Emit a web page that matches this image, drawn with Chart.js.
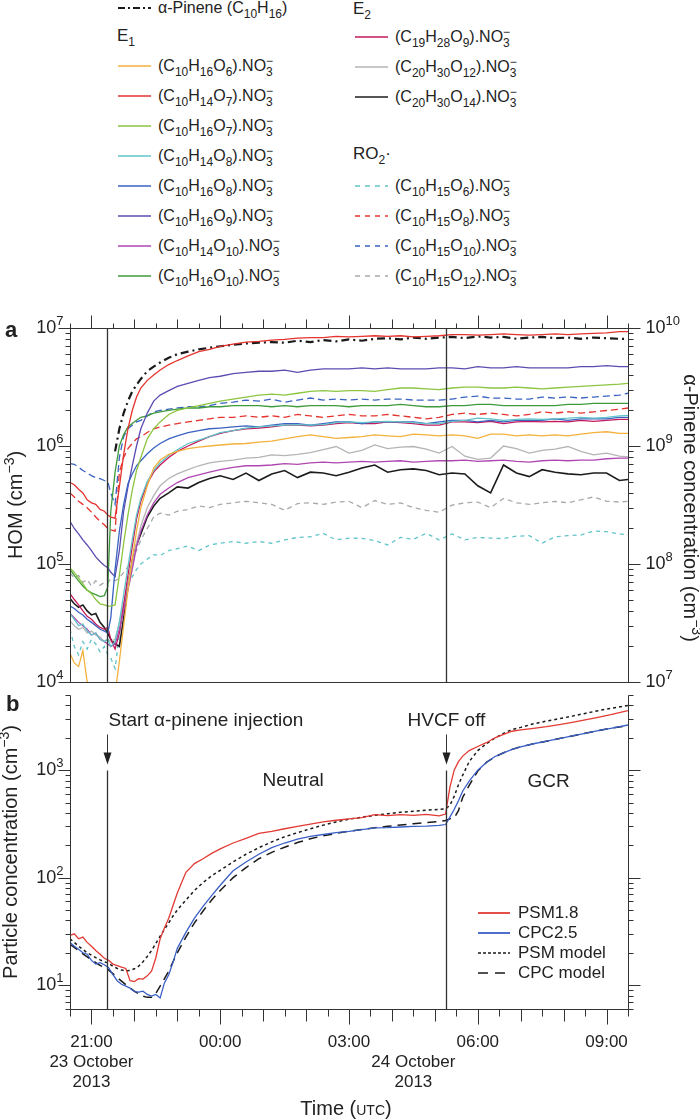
<!DOCTYPE html>
<html lang="en">
<head>
<meta charset="UTF-8">
<meta name="viewport" content="width=device-width, initial-scale=1.0">
<title>HOM and particle concentrations</title>
<script src="https://cdn.jsdelivr.net/npm/chart.js"></script>
<style>
  html, body { margin: 0; padding: 0; background: #fff; }
  body { position: relative; width: 700px; height: 1120px; overflow: hidden;
         font-family: "Liberation Sans", Arial, Helvetica, sans-serif; color: #222; }
  canvas { position: absolute; left: 0; }
  #chartA { top: 290px; }
  #chartB { top: 690px; }
  .item { position: absolute; height: 20px; line-height: 20px; font-size: 16px;
          display: flex; align-items: center; white-space: nowrap; }
  .item svg { flex: none; margin-right: 7px; }
  .item.b { font-size: 17px; }
  .item.b svg { margin-right: 8px; }
  .head { position: absolute; height: 20px; line-height: 20px; font-size: 17px; white-space: nowrap; }
  sub { font-size: 12px; line-height: 0; vertical-align: -5px; }
  .st { position: relative; display: inline-block; width: 7px; height: 0; }
  .st i, .st b { position: absolute; left: 0; font-size: 12px; line-height: 12px;
                 font-style: normal; font-weight: normal; }
  .st i { bottom: 4px; }
  .st b { top: -5px; }
</style>
</head>
<body>
<div id="legendTop"></div>
<canvas id="chartA" width="700" height="410"></canvas>
<canvas id="chartB" width="700" height="430"></canvas>
<div id="legendB"></div>

<script>
// ---------- panel a : HOM concentrations (cm-3), time in hours from 23 Oct 00:00 UTC ----------
const tA = [20.5, 20.6, 20.7, 20.8, 20.9, 21.0, 21.1, 21.2, 21.3, 21.38,
            21.45, 21.55, 21.65, 21.75, 21.85, 21.95, 22.05, 22.15, 22.3, 22.45,
            22.6, 22.8, 23.0, 23.25, 23.5, 23.75, 24.0, 24.3, 24.6,
            24.9, 25.2, 25.5, 25.8, 26.1, 26.4, 26.7, 27.0, 27.3, 27.6,
            27.9, 28.2, 28.5, 28.8, 29.1, 29.4, 29.7, 30.0, 30.3, 30.6,
            30.9, 31.2, 31.5, 31.8, 32.1, 32.4, 32.7, 33.0, 33.3, 33.5];

// E1
const c10h16o6 = [1.75e4, 1.45e4, 1.35e4, 1.85e4, 1.0e4, 8e3, 7e3, 6e3, 6e3, 6e3,
                  6e3, 8e3, 1.5e4, 3.0e4, 6.0e4, 1.1e5, 1.9e5, 3.0e5, 4.6e5, 6.5e5,
                  7.6e5, 8.5e5, 9.0e5, 9.5e5, 9.8e5, 1.0e6, 1.02e6, 1.04e6, 1.05e6,
                  1.08e6, 1.1e6, 1.15e6, 1.2e6, 1.24e6, 1.2e6, 1.16e6, 1.18e6, 1.2e6, 1.24e6,
                  1.22e6, 1.2e6, 1.26e6, 1.24e6, 1.22e6, 1.24e6, 1.22e6, 1.16e6, 1.26e6, 1.26e6,
                  1.22e6, 1.24e6, 1.22e6, 1.24e6, 1.22e6, 1.26e6, 1.3e6, 1.32e6, 1.28e6, 1.28e6];
const c10h14o7 = [4.9e5, 4.7e5, 4.3e5, 4.0e5, 3.5e5, 3.3e5, 3.2e5, 2.9e5, 2.8e5, 2.6e5,
                  2.5e5, 2.45e5, 4.5e5, 8.5e5, 1.4e6, 2.0e6, 2.6e6, 3.1e6, 3.6e6, 4.0e6,
                  4.4e6, 4.9e6, 5.3e6, 5.8e6, 6.3e6, 6.6e6, 7.0e6, 7.3e6, 7.6e6,
                  7.7e6, 7.9e6, 8.0e6, 8.2e6, 8.3e6, 8.3e6, 8.5e6, 8.4e6, 8.5e6, 8.6e6,
                  8.5e6, 8.6e6, 8.4e6, 8.5e6, 8.6e6, 8.8e6, 8.8e6, 8.7e6, 8.8e6, 8.9e6,
                  8.8e6, 8.7e6, 8.8e6, 8.9e6, 8.8e6, 8.9e6, 9.0e6, 9.1e6, 9.3e6, 9.3e6];
const c10h16o7 = [9.2e4, 8.5e4, 7.6e4, 6.8e4, 6.0e4, 5.6e4, 5.0e4, 4.6e4, 4.5e4, 4.4e4,
                  4.4e4, 4.5e4, 8.0e4, 1.5e5, 2.6e5, 4.2e5, 6.2e5, 8.0e5, 1.15e6, 1.4e6,
                  1.6e6, 1.85e6, 2.0e6, 2.1e6, 2.2e6, 2.3e6, 2.4e6, 2.5e6, 2.6e6,
                  2.7e6, 2.75e6, 2.7e6, 2.8e6, 2.9e6, 2.95e6, 2.9e6, 2.95e6, 2.95e6, 2.9e6,
                  3.0e6, 3.1e6, 3.1e6, 3.05e6, 3.0e6, 3.1e6, 3.15e6, 3.15e6, 3.1e6, 3.1e6,
                  3.15e6, 3.1e6, 3.05e6, 3.1e6, 3.15e6, 3.2e6, 3.25e6, 3.3e6, 3.35e6, 3.4e6];
const c10h14o8 = [3.8e4, 3.4e4, 3.0e4, 3.1e4, 2.7e4, 2.5e4, 2.6e4, 2.3e4, 2.2e4, 2.3e4,
                  2.0e4, 2.2e4, 3.2e4, 5.5e4, 9.5e4, 1.6e5, 2.6e5, 3.6e5, 5.0e5, 6.2e5,
                  7.2e5, 8.3e5, 9.3e5, 1.05e6, 1.12e6, 1.2e6, 1.3e6, 1.35e6, 1.42e6,
                  1.45e6, 1.48e6, 1.5e6, 1.52e6, 1.5e6, 1.52e6, 1.58e6, 1.6e6, 1.58e6, 1.6e6,
                  1.62e6, 1.6e6, 1.58e6, 1.55e6, 1.55e6, 1.62e6, 1.65e6, 1.72e6, 1.7e6, 1.65e6,
                  1.68e6, 1.7e6, 1.68e6, 1.7e6, 1.72e6, 1.75e6, 1.72e6, 1.75e6, 1.8e6, 1.82e6];
const c10h16o8 = [4.4e4, 4.2e4, 3.9e4, 3.7e4, 3.4e4, 3.2e4, 3.0e4, 2.8e4, 2.7e4, 2.6e4,
                  3.5e4, 9.0e4, 1.9e5, 3.2e5, 4.8e5, 5.8e5, 6.8e5, 7.5e5, 8.6e5, 9.6e5,
                  1.05e6, 1.15e6, 1.22e6, 1.3e6, 1.35e6, 1.4e6, 1.42e6, 1.45e6, 1.48e6,
                  1.45e6, 1.5e6, 1.55e6, 1.55e6, 1.5e6, 1.55e6, 1.6e6, 1.6e6, 1.55e6, 1.6e6,
                  1.6e6, 1.6e6, 1.6e6, 1.55e6, 1.6e6, 1.65e6, 1.65e6, 1.6e6, 1.65e6, 1.6e6,
                  1.65e6, 1.65e6, 1.65e6, 1.7e6, 1.65e6, 1.7e6, 1.7e6, 1.7e6, 1.75e6, 1.75e6];
const c10h16o9 = [2.3e5, 2.0e5, 1.8e5, 1.6e5, 1.45e5, 1.3e5, 1.15e5, 1.05e5, 9.7e4, 9.3e4,
                  8.5e4, 7.8e4, 1.3e5, 2.8e5, 4.5e5, 6.8e5, 1.0e6, 1.4e6, 1.9e6, 2.4e6,
                  2.7e6, 2.95e6, 3.2e6, 3.4e6, 3.6e6, 3.8e6, 3.9e6, 4.1e6, 4.2e6,
                  4.3e6, 4.3e6, 4.4e6, 4.2e6, 4.4e6, 4.5e6, 4.5e6, 4.5e6, 4.6e6, 4.5e6,
                  4.6e6, 4.5e6, 4.5e6, 4.5e6, 4.6e6, 4.6e6, 4.5e6, 4.7e6, 4.6e6, 4.6e6,
                  4.7e6, 4.6e6, 4.6e6, 4.6e6, 4.6e6, 4.7e6, 4.7e6, 4.8e6, 4.7e6, 4.7e6];
const c10h14o10 = [3.8e4, 3.5e4, 3.2e4, 3.0e4, 2.8e4, 2.5e4, 2.6e4, 2.3e4, 2.2e4, 2.1e4,
                   2.0e4, 2.1e4, 2.8e4, 4.0e4, 6.0e4, 9.0e4, 1.4e5, 1.9e5, 2.6e5, 3.3e5,
                   3.9e5, 4.4e5, 4.9e5, 5.4e5, 5.7e5, 6.0e5, 6.3e5, 6.6e5, 6.8e5,
                   6.8e5, 6.9e5, 7.1e5, 7.0e5, 7.2e5, 7.3e5, 7.2e5, 7.3e5, 7.4e5, 7.3e5,
                   7.4e5, 7.5e5, 7.3e5, 7.4e5, 7.5e5, 7.5e5, 7.6e5, 7.4e5, 7.5e5, 7.6e5,
                   7.4e5, 7.3e5, 7.5e5, 7.6e5, 7.5e5, 7.6e5, 7.6e5, 7.8e5, 7.9e5, 7.9e5];
const c10h16o10 = [9.0e4, 8.0e4, 7.2e4, 6.5e4, 6.0e4, 5.7e4, 5.5e4, 5.3e4, 5.4e4, 6.4e4,
                   2.8e5, 6.0e5, 1.0e6, 1.25e6, 1.45e6, 1.55e6, 1.65e6, 1.75e6, 1.8e6, 1.9e6,
                   1.95e6, 2.0e6, 2.05e6, 2.1e6, 2.1e6, 2.15e6, 2.15e6, 2.2e6, 2.2e6,
                   2.2e6, 2.15e6, 2.2e6, 2.15e6, 2.2e6, 2.2e6, 2.2e6, 2.15e6, 2.2e6, 2.2e6,
                   2.2e6, 2.25e6, 2.2e6, 2.15e6, 2.15e6, 2.2e6, 2.2e6, 2.25e6, 2.25e6, 2.2e6,
                   2.2e6, 2.2e6, 2.2e6, 2.2e6, 2.25e6, 2.25e6, 2.3e6, 2.3e6, 2.3e6, 2.3e6];
// E2
const c19h28o9 = [5.6e4, 5.0e4, 4.5e4, 4.0e4, 3.6e4, 3.4e4, 3.1e4, 2.9e4, 2.8e4, 2.9e4,
                  2.3e4, 1.9e4, 2.6e4, 4.5e4, 8.0e4, 1.4e5, 2.4e5, 3.4e5, 4.8e5, 6.0e5,
                  6.9e5, 8.0e5, 9.0e5, 1.0e6, 1.1e6, 1.2e6, 1.28e6, 1.35e6, 1.4e6,
                  1.42e6, 1.45e6, 1.5e6, 1.5e6, 1.48e6, 1.5e6, 1.55e6, 1.58e6, 1.55e6, 1.55e6,
                  1.6e6, 1.58e6, 1.55e6, 1.5e6, 1.5e6, 1.6e6, 1.6e6, 1.58e6, 1.62e6, 1.55e6,
                  1.6e6, 1.62e6, 1.6e6, 1.62e6, 1.6e6, 1.65e6, 1.62e6, 1.65e6, 1.68e6, 1.68e6];
const c20h30o12 = [3.3e4, 3.0e4, 2.8e4, 2.9e4, 2.6e4, 2.7e4, 2.5e4, 2.4e4, 2.2e4, 2.3e4,
                   2.2e4, 2.3e4, 3.2e4, 4.6e4, 6.8e4, 1.0e5, 1.5e5, 2.1e5, 3.0e5, 3.8e5,
                   4.6e5, 5.3e5, 5.8e5, 6.3e5, 6.8e5, 7.2e5, 7.4e5, 7.6e5, 7.9e5,
                   8.0e5, 8.4e5, 8.3e5, 8.5e5, 8.8e5, 9.3e5, 9.9e5, 8.7e5, 9.2e5, 1.02e6,
                   9.5e5, 9.8e5, 9.9e5, 9.4e5, 8.7e5, 9.9e5, 8.2e5, 7.7e5, 7.9e5, 1.0e6,
                   9.5e5, 8.7e5, 9.2e5, 9.4e5, 9.9e5, 9.0e5, 8.4e5, 8.7e5, 8.2e5, 8.1e5];
const c20h30o14 = [5.1e4, 4.6e4, 4.3e4, 4.5e4, 4.0e4, 3.7e4, 3.8e4, 3.2e4, 2.9e4, 2.6e4,
                   2.3e4, 2.1e4, 2.0e4, 3.5e4, 6.5e4, 1.05e5, 1.45e5, 1.8e5, 2.5e5, 3.1e5,
                   3.6e5, 4.0e5, 4.5e5, 4.4e5, 4.9e5, 5.3e5, 5.6e5, 5.2e5, 5.9e5,
                   5.1e5, 5.8e5, 6.2e5, 5.4e5, 6.0e5, 5.9e5, 5.6e5, 6.0e5, 6.5e5, 6.9e5,
                   6.0e5, 6.3e5, 6.4e5, 6.2e5, 5.7e5, 5.9e5, 5.8e5, 4.6e5, 4.0e5, 6.9e5,
                   5.9e5, 5.5e5, 6.3e5, 6.0e5, 5.8e5, 5.7e5, 5.9e5, 5.9e5, 5.1e5, 5.2e5];
// RO2 radicals
const c10h15o6 = [2.8e4, 2.0e4, 1.7e4, 2.2e4, 1.9e4, 2.3e4, 2.1e4, 1.8e4, 2.0e4, 1.7e4,
                  1.6e4, 1.3e4, 2.5e4, 4.5e4, 6.5e4, 7.8e4, 9.0e4, 1.0e5, 1.1e5, 1.2e5,
                  1.18e5, 1.3e5, 1.35e5, 1.42e5, 1.3e5, 1.45e5, 1.5e5, 1.55e5, 1.5e5,
                  1.55e5, 1.5e5, 1.6e5, 1.68e5, 1.7e5, 1.82e5, 1.6e5, 1.66e5, 1.65e5, 1.58e5,
                  1.45e5, 1.68e5, 1.62e5, 1.82e5, 1.6e5, 1.8e5, 1.6e5, 1.68e5, 1.66e5, 1.64e5,
                  1.72e5, 1.74e5, 1.5e5, 1.7e5, 1.74e5, 1.76e5, 1.9e5, 1.88e5, 1.8e5, 1.76e5];
const c10h15o8 = [4.0e5, 3.7e5, 3.4e5, 3.2e5, 3.0e5, 2.75e5, 2.5e5, 2.3e5, 2.15e5, 2.0e5,
                  1.95e5, 1.9e5, 6.0e5, 8.0e5, 9.5e5, 1.05e6, 1.15e6, 1.2e6, 1.3e6, 1.4e6,
                  1.45e6, 1.5e6, 1.55e6, 1.6e6, 1.65e6, 1.7e6, 1.75e6, 1.75e6, 1.8e6,
                  1.75e6, 1.8e6, 1.75e6, 1.85e6, 1.8e6, 1.75e6, 1.8e6, 1.85e6, 1.8e6, 1.8e6,
                  1.85e6, 1.8e6, 1.75e6, 1.7e6, 1.75e6, 1.85e6, 1.9e6, 1.85e6, 1.9e6, 1.85e6,
                  1.8e6, 1.85e6, 1.95e6, 1.9e6, 1.95e6, 1.9e6, 1.95e6, 2.0e6, 2.05e6, 2.1e6];
const c10h15o10 = [7.1e5, 7.0e5, 6.6e5, 6.2e5, 5.9e5, 5.6e5, 5.4e5, 5.3e5, 5.1e5, 5.0e5,
                   4.0e5, 3.2e5, 8.0e5, 1.2e6, 1.4e6, 1.5e6, 1.6e6, 1.65e6, 1.8e6, 1.95e6,
                   2.0e6, 2.05e6, 2.1e6, 2.15e6, 2.15e6, 2.2e6, 2.3e6, 2.35e6, 2.45e6,
                   2.4e6, 2.5e6, 2.35e6, 2.45e6, 2.55e6, 2.45e6, 2.5e6, 2.45e6, 2.5e6, 2.45e6,
                   2.5e6, 2.5e6, 2.45e6, 2.45e6, 2.45e6, 2.5e6, 2.6e6, 2.65e6, 2.55e6, 2.55e6,
                   2.5e6, 2.5e6, 2.6e6, 2.55e6, 2.6e6, 2.55e6, 2.6e6, 2.65e6, 2.7e6, 2.8e6];
const c10h15o12 = [8.4e4, 7.6e4, 8.0e4, 7.0e4, 7.4e4, 6.5e4, 7.2e4, 6.6e4, 7.0e4, 6.9e4,
                   7.5e4, 7.2e4, 7.6e4, 8.5e4, 9.5e4, 1.1e5, 1.3e5, 1.6e5, 2.0e5, 2.5e5,
                   2.7e5, 2.6e5, 2.8e5, 2.9e5, 3.1e5, 3.0e5, 3.2e5, 3.3e5, 3.4e5,
                   3.3e5, 3.2e5, 2.85e5, 3.25e5, 3.3e5, 3.2e5, 3.35e5, 3.4e5, 3.0e5, 3.45e5,
                   3.2e5, 3.3e5, 3.0e5, 2.85e5, 2.75e5, 3.15e5, 3.3e5, 3.35e5, 3.0e5, 3.6e5,
                   3.3e5, 3.2e5, 3.3e5, 3.4e5, 3.3e5, 3.5e5, 3.7e5, 3.4e5, 3.35e5, 3.4e5];
// alpha-pinene (right axis, cm-3)
const alphaPinene = [null, null, null, null, null, null, null, null, null, null,
                     null, 9.0e8, 1.4e9, 1.9e9, 2.4e9, 2.9e9, 3.3e9, 3.7e9, 4.3e9, 4.7e9,
                     5.1e9, 5.6e9, 6.0e9, 6.3e9, 6.6e9, 6.8e9, 7.0e9, 7.2e9, 7.4e9,
                     7.5e9, 7.6e9, 7.5e9, 7.8e9, 7.6e9, 7.9e9, 7.7e9, 8.0e9, 7.8e9, 8.1e9,
                     8.2e9, 8.0e9, 8.3e9, 8.1e9, 8.3e9, 8.4e9, 8.2e9, 8.5e9, 8.3e9, 8.4e9,
                     8.1e9, 8.3e9, 8.4e9, 8.2e9, 8.3e9, 8.1e9, 8.3e9, 8.2e9, 8.1e9, 8.1e9];

// ---------- panel b : particle concentrations (cm-3) ----------
const tB = [20.5, 20.6, 20.7, 20.8, 20.9, 21.0, 21.1, 21.2, 21.3, 21.4,
            21.5, 21.6, 21.7, 21.8, 21.9, 22.0, 22.1, 22.2, 22.3, 22.4,
            22.5, 22.6, 22.7, 22.8, 22.9, 23.0, 23.2, 23.4, 23.6, 23.8, 24.0,
            24.3, 24.6, 24.9, 25.2, 25.5, 25.8, 26.1, 26.4, 26.7, 27.0,
            27.3, 27.6, 27.9, 28.2, 28.5, 28.8, 29.1, 29.25, 29.35, 29.45,
            29.55, 29.65, 29.8, 30.0, 30.2, 30.4, 30.6, 30.8, 31.0,
            31.3, 31.6, 31.9, 32.2, 32.5, 32.8, 33.1, 33.5];
const psm18 = [29, 30, 27, 28, 25, 23, 21, 19.4, 17.8, 17,
               15.7, 15.2, 14.7, 14.3, 11, 10.8, 11.5, 11.4, 12.2, 13.5,
               18, 27, 34, 42, 55, 72, 112, 135, 150, 168, 185,
               210, 232, 258, 270, 285, 300, 315, 330, 342, 352,
               362, 385, 378, 385, 380, 388, 376, 390, 690, 1000,
               1200, 1350, 1520, 1660, 1800, 2000, 2150, 2300, 2370,
               2450, 2540, 2650, 2780, 2930, 3100, 3280, 3580];
const cpc25 = [25, 23, 21.6, 20, 19.4, 17, 15.7, 16.2, 15.5, 14.5,
               12.5, 11, 10.2, 9.8, 9.4, 8.7, 8.6, 8.8, 8.2, 7.9,
               8.2, 7.6, 10.5, 12.5, 16.3, 22, 31, 42, 54, 68, 85,
               116, 140, 165, 190, 210, 228, 242, 252, 262, 270,
               280, 290, 292, 296, 300, 302, 306, 312, 365, 430,
               520, 640, 790, 1000, 1180, 1340, 1450, 1560, 1650,
               1760, 1860, 1960, 2080, 2200, 2330, 2450, 2630];
const psmModel = [27, 25, 23, 21.5, 20, 19, 18, 17.2, 16.5, 16,
                  15, 14.3, 13.8, 13.6, 13.7, 14.2, 15, 16.5, 18.5, 21,
                  24.5, 28.5, 33, 38, 44, 50, 62, 76, 90, 104, 117,
                  140, 165, 190, 215, 240, 262, 285, 308, 330, 350,
                  365, 380, 393, 405, 415, 424, 432, 438, 470, 570,
                  730, 900, 1200, 1520, 1760, 1990, 2200, 2390, 2500,
                  2700, 2860, 3010, 3180, 3370, 3570, 3760, 4000];
const cpcModel = [24, 22.5, 21, 19.5, 18.3, 17.2, 16.2, 15.3, 14.5, 13.8,
                  12.8, 11.8, 10.9, 10.1, 9.4, 8.8, 8.3, 7.9, 7.7, 7.7,
                  8.4, 9.8, 11.5, 13.5, 16.5, 20, 28, 38, 49, 62, 76,
                  100, 124, 150, 172, 192, 212, 230, 245, 258, 270,
                  281, 291, 300, 309, 317, 325, 332, 340, 352, 360,
                  420, 560, 720, 980, 1180, 1330, 1450, 1560, 1650,
                  1760, 1860, 1970, 2080, 2200, 2330, 2450, 2600];

// events, time ticks, annotations
const eventTimes = [21.37, 29.27];
const eventLabels = ['Start \u03b1-pinene injection', 'HVCF off'];
const tickHours = [21, 24, 27, 30, 33];
const tickLabels = ['21:00', '00:00', '03:00', '06:00', '09:00'];
const dateHours = [21, 28.5];
const dateLabels = [['23 October', '2013'], ['24 October', '2013']];
const regionLabels = ['Neutral', 'GCR'];
const regionHours = [25.7, 31.65];
const regionLevels = [790, 775];

// ---------- styles ----------
const FONT = '"Liberation Sans", Arial, Helvetica, sans-serif';
const INK = '#222';
const AXIS = '#333';

const e1 = [
  { f: 'C10H16O6',  data: c10h16o6,  color: '#f4b13c' },
  { f: 'C10H14O7',  data: c10h14o7,  color: '#e5332e' },
  { f: 'C10H16O7',  data: c10h16o7,  color: '#8cc540' },
  { f: 'C10H14O8',  data: c10h14o8,  color: '#62c3c9' },
  { f: 'C10H16O8',  data: c10h16o8,  color: '#3b63c2' },
  { f: 'C10H16O9',  data: c10h16o9,  color: '#5a4db1' },
  { f: 'C10H14O10', data: c10h14o10, color: '#b046b2' },
  { f: 'C10H16O10', data: c10h16o10, color: '#3f9a3b' }
];
const e2 = [
  { f: 'C19H28O9',  data: c19h28o9,  color: '#c4185c' },
  { f: 'C20H30O12', data: c20h30o12, color: '#b4b4b4' },
  { f: 'C20H30O14', data: c20h30o14, color: '#1c1c1c', width: 1.6 }
];
const ro2 = [
  { f: 'C10H15O6',  data: c10h15o6,  color: '#62c3c9', dash: [4, 4] },
  { f: 'C10H15O8',  data: c10h15o8,  color: '#e5332e', dash: [7, 4] },
  { f: 'C10H15O10', data: c10h15o10, color: '#3b63c2', dash: [7, 4] },
  { f: 'C10H15O12', data: c10h15o12, color: '#a9a9a9', dash: [5, 4] }
];
const alphaStyle = { color: '#1a1a1a', width: 2.2, dash: [8, 4, 2, 4] };

const seriesB = [
  { name: 'PSM1.8',    data: psm18,    color: '#e23a33', width: 1.3 },
  { name: 'CPC2.5',    data: cpc25,    color: '#3a5fc6', width: 1.3 },
  { name: 'PSM model', data: psmModel, color: '#1a1a1a', width: 1.5, dash: [3, 3] },
  { name: 'CPC model', data: cpcModel, color: '#1a1a1a', width: 1.5, dash: [9, 6] }
];

// ---------- helpers ----------
const xy = (ts, vs) => ts.map((t, i) => ({ x: t, y: vs[i] }));
const subs = s => s.replace(/(\d+)/g, '<sub>$1</sub>');
const ion = f => '(' + subs(f) + ').NO<span class="st"><i>\u2212</i><b>3</b></span>';

function sample(color, width, dash, w) {
  const d = dash ? ` stroke-dasharray="${dash.join(' ')}"` : '';
  return `<svg width="${w}" height="20"><line x1="0" y1="10" x2="${w}" y2="10" stroke="${color}" stroke-width="${width}"${d}/></svg>`;
}
function addItem(parent, left, cy, svg, html, cls) {
  const d = document.createElement('div');
  d.className = 'item' + (cls ? ' ' + cls : '');
  d.style.left = left + 'px';
  d.style.top = (cy - 10) + 'px';
  d.innerHTML = svg + '<span>' + html + '</span>';
  parent.appendChild(d);
}
function addHead(parent, left, cy, html) {
  const d = document.createElement('div');
  d.className = 'head';
  d.style.left = left + 'px';
  d.style.top = (cy - 10) + 'px';
  d.innerHTML = html;
  parent.appendChild(d);
}

function line(ctx, x1, y1, x2, y2) {
  ctx.beginPath(); ctx.moveTo(x1, y1); ctx.lineTo(x2, y2); ctx.stroke();
}
// parts: [text, size, dy]
function rich(ctx, parts, x, y, align) {
  let w = 0;
  parts.forEach(p => { ctx.font = p[1] + 'px ' + FONT; w += ctx.measureText(p[0]).width; });
  let cx = align === 'right' ? x - w : align === 'center' ? x - w / 2 : x;
  ctx.textAlign = 'left';
  parts.forEach(p => {
    ctx.font = p[1] + 'px ' + FONT;
    ctx.fillText(p[0], cx, y + (p[2] || 0));
    cx += ctx.measureText(p[0]).width;
  });
}
function logTicks(scale) {
  const out = [];
  const lo = Math.floor(Math.log10(scale.min)), hi = Math.ceil(Math.log10(scale.max));
  for (let e = lo; e <= hi; e++) {
    for (let m = 1; m <= 9; m++) {
      const v = m * Math.pow(10, e);
      if (v >= scale.min * 0.999 && v <= scale.max * 1.001) out.push({ v, e, major: m === 1 });
    }
  }
  return out;
}
function timeTicks(scale) {
  const out = [];
  for (let t = Math.ceil(scale.min * 2) / 2; t <= scale.max + 1e-9; t += 0.5) out.push(t);
  return out;
}
const px = v => Math.round(v) + 0.5;
const tickLen = (t, long, mid, short) => t % 3 === 0 ? long : Number.isInteger(t) ? mid : short;

function drawLogAxis(ctx, scale, x0, dir, labelX, labelAlign) {
  logTicks(scale).forEach(k => {
    const py = px(scale.getPixelForValue(k.v));
    line(ctx, x0, py, x0 + dir * (k.major ? 12 : 5), py);
    if (k.major && labelX !== null) {
      rich(ctx, [['10', 18], [String(k.e), 13, -7]], labelX, py, labelAlign);
    }
  });
}

// ---------- top legend ----------
const lt = document.getElementById('legendTop');
addItem(lt, 118, 8, sample(alphaStyle.color, 2, [7, 3, 2, 3], 33), '\u03b1-Pinene (C<sub>10</sub>H<sub>16</sub>)');
addHead(lt, 117, 36, 'E<sub>1</sub>');
e1.forEach((s, i) => addItem(lt, 118, 66 + 30 * i, sample(s.color, 1.6, null, 33), ion(s.f)));
addHead(lt, 353, 9, 'E<sub>2</sub>');
e2.forEach((s, i) => addItem(lt, 355, 37 + 30 * i, sample(s.color, 1.6, null, 33), ion(s.f)));
addHead(lt, 353, 154, 'RO<sub>2</sub>\u00b7');
ro2.forEach((s, i) => addItem(lt, 355, 186 + 30 * i, sample(s.color, 1.6, [5, 5], 33), ion(s.f)));

// ---------- panel b legend ----------
const lb = document.getElementById('legendB');
seriesB.forEach((s, i) => addItem(lb, 478, 913 + 20 * i,
  sample(s.color, s.dash ? 1.6 : 1.8, s.dash ? (s.dash[0] > 5 ? [10, 7] : [3, 2]) : null, 32), s.name, 'b'));

// ---------- panel a ----------
const panelA = {
  id: 'panelA',
  afterDraw(chart) {
    const { ctx, chartArea: a } = chart;
    const { x, y, y2 } = chart.scales;
    const L = px(a.left), R = px(a.right), T = px(a.top), B = px(a.bottom);
    ctx.save();
    ctx.strokeStyle = AXIS; ctx.fillStyle = INK; ctx.lineWidth = 1;
    ctx.strokeRect(L, T, R - L, B - T);
    ctx.lineWidth = 1.3;
    eventTimes.forEach(t => { const ex = px(x.getPixelForValue(t)); line(ctx, ex, T, ex, B); });
    ctx.lineWidth = 1;
    timeTicks(x).forEach(t => {
      const tx = px(x.getPixelForValue(t));
      line(ctx, tx, T, tx, T - tickLen(t, 13, 9, 5));
    });
    ctx.textBaseline = 'middle';
    drawLogAxis(ctx, y, L, -1, L - 7, 'right');
    drawLogAxis(ctx, y2, R, 1, R + 17, 'left');
    // axis titles
    ctx.textBaseline = 'alphabetic';
    ctx.save();
    ctx.translate(22, (a.top + a.bottom) / 2);
    ctx.rotate(-Math.PI / 2);
    rich(ctx, [['HOM (cm', 20], ['\u22123', 14, -8], [')', 20]], 0, 0, 'center');
    ctx.restore();
    ctx.save();
    ctx.translate(684, (a.top + a.bottom) / 2 + 3);
    ctx.rotate(Math.PI / 2);
    rich(ctx, [['\u03b1-Pinene concentration (cm', 20], ['\u22123', 14, -8], [')', 20]], 0, 0, 'center');
    ctx.restore();
    ctx.font = 'bold 22px ' + FONT;
    ctx.textAlign = 'left'; ctx.textBaseline = 'middle';
    ctx.fillText('a', 5, a.top + 3);
    ctx.restore();
  }
};

const dsA = [...e1, ...e2, ...ro2].map(s => ({
  label: s.f,
  data: xy(tA, s.data),
  borderColor: s.color,
  borderWidth: s.width || 1.3,
  borderDash: s.dash || [],
  yAxisID: 'y'
}));
dsA.push({
  label: 'alpha-pinene',
  data: xy(tA, alphaPinene),
  borderColor: alphaStyle.color,
  borderWidth: alphaStyle.width,
  borderDash: alphaStyle.dash,
  yAxisID: 'y2'
});

const commonOpts = {
  responsive: false,
  animation: false,
  devicePixelRatio: 1,
  events: [],
  plugins: { legend: { display: false }, tooltip: { enabled: false } },
  elements: { point: { radius: 0 }, line: { tension: 0, fill: false } },
  spanGaps: false
};

new Chart(document.getElementById('chartA'), {
  type: 'line',
  data: { datasets: dsA },
  options: {
    ...commonOpts,
    layout: { padding: { left: 70, right: 72, top: 38, bottom: 18 } },
    scales: {
      x: { type: 'linear', min: 20.5, max: 33.5, display: false },
      y: { type: 'logarithmic', min: 1e4, max: 1e7, display: false },
      y2: { type: 'logarithmic', min: 1e7, max: 1e10, display: false, position: 'right' }
    }
  },
  plugins: [panelA]
});

// ---------- panel b ----------
const panelB = {
  id: 'panelB',
  afterDraw(chart) {
    const { ctx, chartArea: a } = chart;
    const { x, y } = chart.scales;
    const L = px(a.left), R = px(a.right), T = px(a.top), B = px(a.bottom);
    ctx.save();
    ctx.strokeStyle = AXIS; ctx.fillStyle = INK; ctx.lineWidth = 1;
    line(ctx, L, T, L, B); line(ctx, R, T, R, B); line(ctx, L, B, R, B);
    ctx.textBaseline = 'middle';
    drawLogAxis(ctx, y, L, -1, L - 7, 'right');
    drawLogAxis(ctx, y, R, 1, null, 'left');
    timeTicks(x).forEach(t => {
      const tx = px(x.getPixelForValue(t));
      line(ctx, tx, B, tx, B + tickLen(t, 15, 12, 7));
    });
    tickHours.forEach((h, i) => rich(ctx, [[tickLabels[i], 17]], x.getPixelForValue(h), B + 33, 'center'));
    dateHours.forEach((h, i) => {
      dateLabels[i].forEach((s, j) => rich(ctx, [[s, 17]], x.getPixelForValue(h), B + 53 + 20 * j, 'center'));
    });
    ctx.textBaseline = 'alphabetic';
    rich(ctx, [['Time (', 20], ['UTC', 14], [')', 20]], (a.left + a.right) / 2 - 3, B + 105, 'center');
    // events: vertical line from 10^3 down, arrow and label above
    const top = px(y.getPixelForValue(1000));
    eventTimes.forEach((t, i) => {
      const ex = px(x.getPixelForValue(t));
      ctx.lineWidth = 1.3;
      line(ctx, ex, top, ex, B);
      ctx.lineWidth = 1;
      line(ctx, ex, top - 36, ex, top - 16);
      ctx.beginPath();
      ctx.moveTo(ex - 4, top - 18); ctx.lineTo(ex + 4, top - 18); ctx.lineTo(ex, top - 6); ctx.closePath();
      ctx.fill();
      ctx.textBaseline = 'middle';
      rich(ctx, [[eventLabels[i], 19]], i === 0 ? ex + 1 : ex, top - 50, i === 0 ? 'left' : 'center');
    });
    regionLabels.forEach((s, i) => {
      rich(ctx, [[s, 19]], x.getPixelForValue(regionHours[i]), y.getPixelForValue(regionLevels[i]), 'center');
    });
    ctx.textBaseline = 'alphabetic';
    ctx.save();
    ctx.translate(17, (a.top + a.bottom) / 2);
    ctx.rotate(-Math.PI / 2);
    rich(ctx, [['Particle concentration (cm', 20], ['\u22123', 14, -8], [')', 20]], 0, 0, 'center');
    ctx.restore();
    ctx.font = 'bold 22px ' + FONT;
    ctx.textAlign = 'left'; ctx.textBaseline = 'middle';
    ctx.fillText('b', 6, a.top + 10);
    ctx.restore();
  }
};

new Chart(document.getElementById('chartB'), {
  type: 'line',
  data: {
    datasets: seriesB.map(s => ({
      label: s.name,
      data: xy(tB, s.data),
      borderColor: s.color,
      borderWidth: s.width,
      borderDash: s.dash || []
    }))
  },
  options: {
    ...commonOpts,
    layout: { padding: { left: 70, right: 72, top: 5, bottom: 111 } },
    scales: {
      x: { type: 'linear', min: 20.5, max: 33.5, display: false },
      y: { type: 'logarithmic', min: 6, max: 5000, display: false }
    }
  },
  plugins: [panelB]
});
</script>
</body>
</html>
